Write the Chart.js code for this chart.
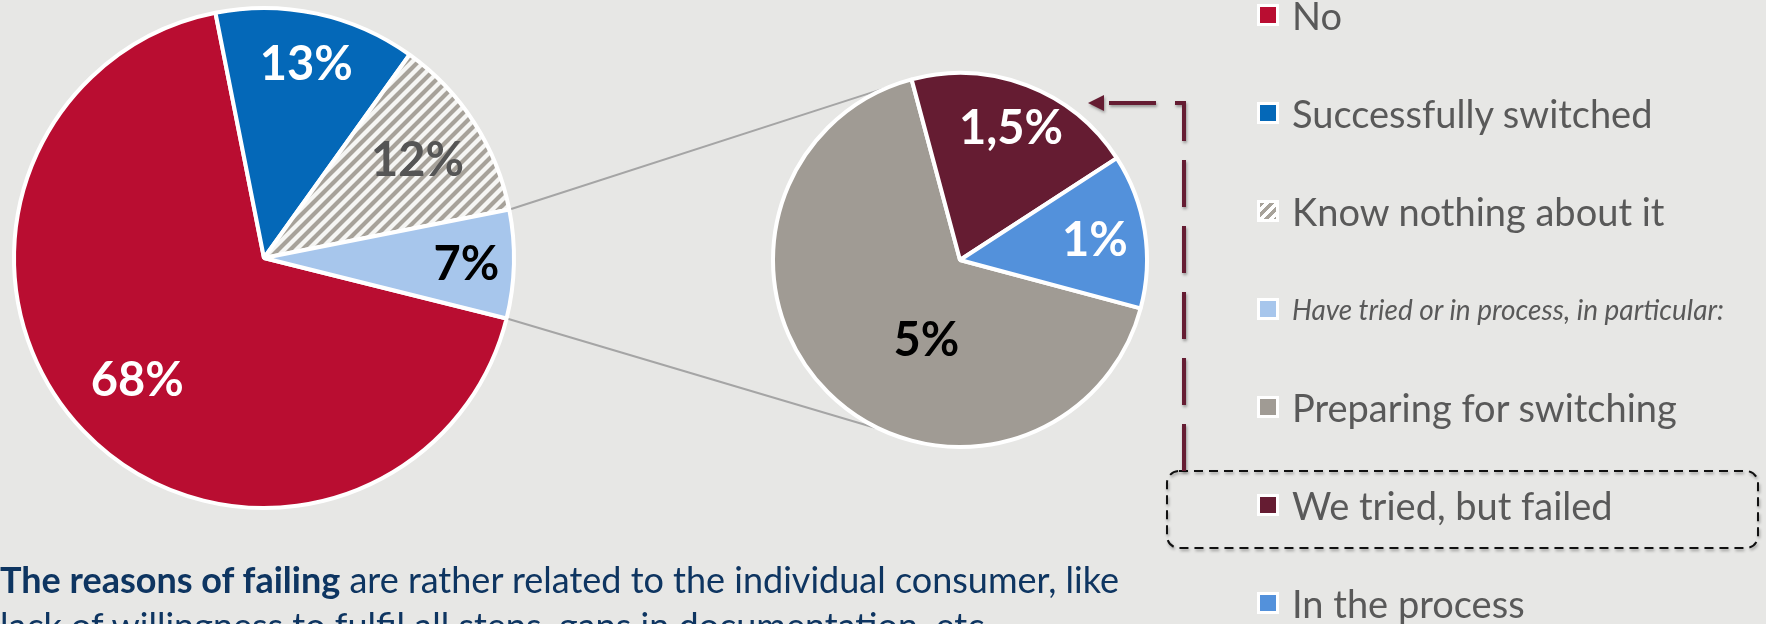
<!DOCTYPE html>
<html>
<head>
<meta charset="utf-8">
<script src="https://cdn.jsdelivr.net/npm/chart.js@4/dist/chart.umd.min.js"></script>
<style>
html, body { margin: 0; padding: 0; }
body { width: 1766px; height: 624px; overflow: hidden; background: #e7e7e5; position: relative; font-family: Lato, "Open Sans", sans-serif; }
canvas { position: absolute; left: 0; top: 0; }
#legend { position: absolute; left: 1257px; top: -34px; }
.item { height: 98px; display: flex; align-items: center; color: #595959; font-size: 38px; white-space: nowrap; }
.item.small { font-size: 28px; font-style: italic; }
.sw { width: 16px; height: 16px; border: 3px solid #fff; margin-right: 13px; flex: none; }
#note { position: absolute; left: 0; top: 556px; width: 1300px; font-size: 36px; line-height: 46px; color: #0e3561; white-space: nowrap; }
</style>
</head>
<body>
<canvas id="mainPie" width="1766" height="624"></canvas>
<canvas id="detailPie" width="1766" height="624"></canvas>
<div id="legend"></div>
<div id="note"><b>The reasons of failing</b> are rather related to the individual consumer, like<br>lack of willingness to fulfil all steps, gaps in documentation, etc.</div>
<script>
// Main pie: all respondents
const mainLabels = ['No', 'Successfully switched', 'Know nothing about it', 'Have tried or in process, in particular:'];
const mainValues = [68, 13, 12, 7];

// Detail pie: split of "have tried or in process"
const detailLabels = ['Preparing for switching', 'We tried, but failed', 'In the process'];
const detailValues = [5, 1.5, 1];

// hatched fill for "Know nothing about it"
function makeHatch() {
    const s = 12;
    const c = document.createElement('canvas');
    c.width = s; c.height = s;
    const g = c.getContext('2d');
    g.fillStyle = '#f6f6f4';
    g.fillRect(0, 0, s, s);
    g.strokeStyle = '#a7a29a';
    g.lineWidth = 4.2;
    g.beginPath();
    g.moveTo(-s / 2, s / 2); g.lineTo(s / 2, -s / 2);
    g.moveTo(0, s); g.lineTo(s, 0);
    g.moveTo(s / 2, s * 1.5); g.lineTo(s * 1.5, s / 2);
    g.stroke();
    return g.createPattern(c, 'repeat');
}

const hatch = makeHatch();
const mainColors = ['#b90d31', '#0468b8', hatch, '#a7c6ec'];
const mainSwatches = ['#b90d31', '#0468b8', 'repeating-linear-gradient(135deg, #a7a29a 0 3px, #fff 3px 7px)', '#a7c6ec'];
const detailColors = ['#a09b94', '#651c32', '#5391db'];

const fmt = v => String(v).replace('.', ',') + '%';

// percentage labels inside slices
function sliceLabels(cfg) {
    return {
        id: 'sliceLabels',
        afterDatasetsDraw(chart) {
            const ctx = chart.ctx;
            const arcs = chart.getDatasetMeta(0).data;
            const values = chart.data.datasets[0].data;
            ctx.save();
            ctx.font = 'bold 47px Lato';
            ctx.textAlign = 'center';
            ctx.textBaseline = 'alphabetic';
            arcs.forEach((arc, i) => {
                const p = arc.getProps(['x', 'y', 'startAngle', 'endAngle', 'outerRadius'], true);
                const a = (p.startAngle + p.endAngle) / 2 + (cfg.shift[i] || 0) * Math.PI / 180;
                const r = p.outerRadius * cfg.radius[i];
                ctx.fillStyle = cfg.colors[i];
                ctx.fillText(fmt(values[i]), p.x + Math.cos(a) * r, p.y + Math.sin(a) * r + 17);
            });
            ctx.restore();
        }
    };
}

const mainChart = new Chart(document.getElementById('mainPie'), {
    type: 'pie',
    data: {
        labels: mainLabels,
        datasets: [{
            data: mainValues,
            backgroundColor: mainColors,
            borderColor: '#ffffff',
            borderWidth: 4
        }]
    },
    options: {
        responsive: false,
        animation: false,
        events: [],
        rotation: 104,
        layout: { padding: { left: 12, top: 6, right: 1250, bottom: 114 } },
        plugins: { legend: { display: false }, tooltip: { enabled: false } }
    },
    plugins: [sliceLabels({
        radius: [0.70, 0.80, 0.73, 0.81],
        shift: [0, 0, 0, 0],
        colors: ['#ffffff', '#ffffff', '#555555', '#000000']
    })]
});

// connector lines, arrow and highlight box
const overlay = {
    id: 'overlay',
    beforeDatasetsDraw(chart) {
        const ctx = chart.ctx;
        const src = mainChart.getDatasetMeta(0).data[3].getProps(['x', 'y', 'startAngle', 'endAngle', 'outerRadius'], true);
        const dst = chart.getDatasetMeta(0).data[0].getProps(['x', 'y', 'outerRadius'], true);
        const r0 = src.outerRadius + 2;
        const r1 = dst.outerRadius;
        const a1 = (-22 - 90) * Math.PI / 180;
        const a2 = (205 - 90) * Math.PI / 180;
        ctx.save();
        ctx.strokeStyle = '#a5a5a5';
        ctx.lineWidth = 2;
        ctx.beginPath();
        ctx.moveTo(src.x + Math.cos(src.startAngle) * r0, src.y + Math.sin(src.startAngle) * r0);
        ctx.lineTo(dst.x + Math.cos(a1) * r1, dst.y + Math.sin(a1) * r1);
        ctx.moveTo(src.x + Math.cos(src.endAngle) * r0, src.y + Math.sin(src.endAngle) * r0);
        ctx.lineTo(dst.x + Math.cos(a2) * r1, dst.y + Math.sin(a2) * r1);
        ctx.stroke();
        ctx.restore();
    },
    afterDraw(chart) {
        const ctx = chart.ctx;
        ctx.save();
        ctx.shadowColor = 'rgba(0,0,0,0.35)';
        ctx.shadowBlur = 3;
        ctx.shadowOffsetX = 1;
        ctx.shadowOffsetY = 2;
        // dashed box around "We tried, but failed"
        ctx.strokeStyle = '#111';
        ctx.lineWidth = 2;
        ctx.setLineDash([9, 6]);
        ctx.beginPath();
        ctx.roundRect(1167, 471, 591, 77, 12);
        ctx.stroke();
        // dashed arrow up to the slice
        ctx.strokeStyle = '#651c32';
        ctx.lineWidth = 4;
        ctx.setLineDash([47, 19]);
        ctx.beginPath();
        ctx.moveTo(1184, 471);
        ctx.lineTo(1184, 103);
        ctx.lineTo(1099, 103);
        ctx.stroke();
        ctx.setLineDash([]);
        ctx.fillStyle = '#651c32';
        ctx.beginPath();
        ctx.moveTo(1088, 103);
        ctx.lineTo(1104, 95);
        ctx.lineTo(1104, 111);
        ctx.closePath();
        ctx.fill();
        ctx.restore();
    }
};

new Chart(document.getElementById('detailPie'), {
    type: 'pie',
    data: {
        labels: detailLabels,
        datasets: [{
            data: detailValues,
            backgroundColor: detailColors,
            borderColor: '#ffffff',
            borderWidth: 4
        }]
    },
    options: {
        responsive: false,
        animation: false,
        events: [],
        rotation: 105,
        layout: { padding: { left: 771, top: 71, right: 617, bottom: 175 } },
        plugins: { legend: { display: false }, tooltip: { enabled: false } }
    },
    plugins: [overlay, sliceLabels({
        radius: [0.46, 0.76, 0.73],
        shift: [-22, 0, 0],
        colors: ['#000000', '#ffffff', '#ffffff']
    })]
});

// legend built from both series
const legend = document.getElementById('legend');
const entries = mainLabels.map((l, i) => ({ label: l, bg: mainSwatches[i], small: i === 3 }))
    .concat(detailLabels.map((l, i) => ({ label: l, bg: detailColors[i], small: false })));
entries.forEach(e => {
    const row = document.createElement('div');
    row.className = 'item' + (e.small ? ' small' : '');
    const sw = document.createElement('span');
    sw.className = 'sw';
    sw.style.background = e.bg;
    const tx = document.createElement('span');
    tx.textContent = e.label;
    row.appendChild(sw);
    row.appendChild(tx);
    legend.appendChild(row);
});
</script>
</body>
</html>
